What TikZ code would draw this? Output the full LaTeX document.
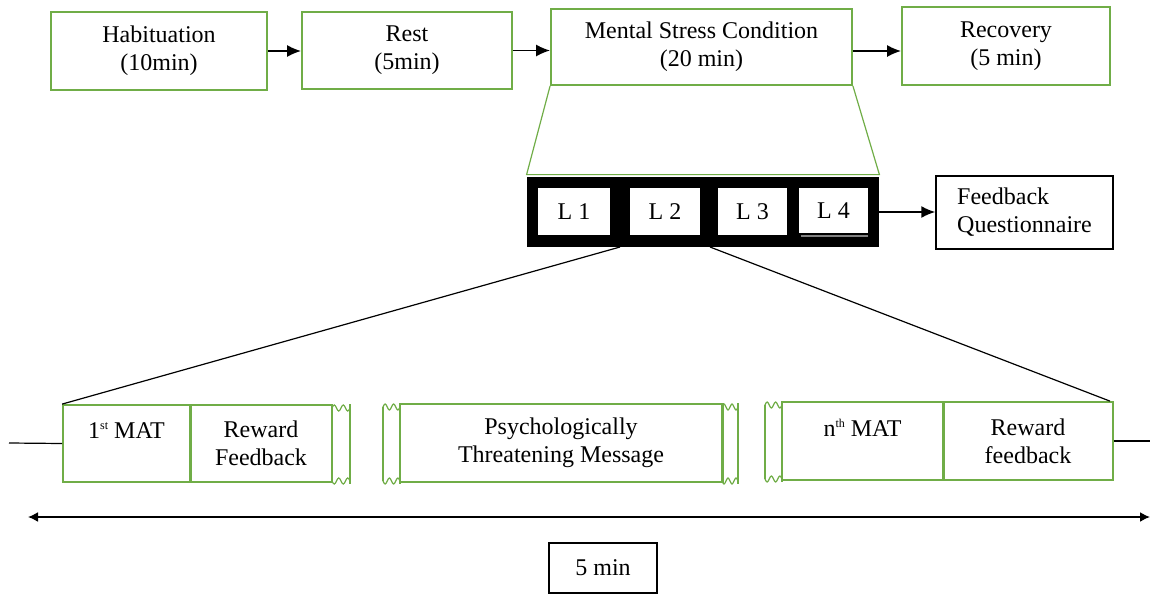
\documentclass[tikz,border=0pt]{standalone}
\usepackage{fontspec}
\setmainfont{Liberation Serif}
\usetikzlibrary{arrows.meta,calc}
\definecolor{grn}{RGB}{112,173,71}

% small raised ordinal suffix
\newcommand{\ordsup}[1]{\raisebox{0.75ex}{\fontsize{6}{6}\selectfont #1}}

% torn-edge break: two verticals joined by wavy lines at top and bottom
\newcommand{\breakmark}[4]{%
  \draw[grn, line width=0.7pt] ({#1},{#3+3}) -- ({#1},{#4-1});
  \draw[grn, line width=0.7pt] ({#2},{#3-1}) -- ({#2},{#4+2});
  \draw[grn, line width=0.6pt] ({#1},{#3+3})
     sin ++({(#2-#1)/8},-3) cos ++({(#2-#1)/8},3)
     sin ++({(#2-#1)/8},3) cos ++({(#2-#1)/8},-3)
     sin ++({(#2-#1)/8},-3) cos ++({(#2-#1)/8},3)
     sin ++({(#2-#1)/8},3) cos ++({(#2-#1)/8},-3);
  \draw[grn, line width=0.6pt] ({#1},{#4-1})
     sin ++({(#2-#1)/8},3) cos ++({(#2-#1)/8},-3)
     sin ++({(#2-#1)/8},-3) cos ++({(#2-#1)/8},3)
     sin ++({(#2-#1)/8},3) cos ++({(#2-#1)/8},-3)
     sin ++({(#2-#1)/8},-3) cos ++({(#2-#1)/8},3);
}

\begin{document}
\begin{tikzpicture}[x=0.5pt,y=-0.5pt,
  every node/.style={font=\fontsize{12}{14}\selectfont, inner sep=0pt},
  gbox/.style={draw=grn, line width=0.9pt, align=center, fill=white},
  bbox/.style={draw=black, line width=0.7pt, fill=white},
  arr/.style={-{Latex[length=7pt,width=6pt]}, line width=0.8pt},
  lbox/.style={fill=white, align=center},
  thin line/.style={line width=0.6pt},
]
\useasboundingbox (0,0) rectangle (1153,595);

% ---- session phases ----
\node[gbox, minimum width=108pt, minimum height=39pt] (hab) at (159,51) {Habituation\\(10min)};
\node[gbox, minimum width=105pt, minimum height=38.5pt] (rest) at (407,50.5) {Rest\\(5min)};
\node[gbox, minimum width=150.5pt, minimum height=38pt] (mental) at (701.5,47) {Mental Stress Condition\\(20 min)};
\node[gbox, minimum width=104pt, minimum height=39pt] (recov) at (1006,46) {Recovery\\(5 min)};

\draw[arr] (hab.east) -- (hab.east -| rest.west);
\draw[arr] (rest.east) -- (rest.east -| mental.west);
\draw[arr] ([yshift=-2pt]mental.east) -- ([yshift=-2pt]mental.east -| recov.west);

% ---- the four levels ----
\node[fill=black, minimum width=176pt, minimum height=35pt] (frame) at (703,212) {};
\node[lbox, minimum width=36pt, minimum height=23.5pt] (l1) at (574,211.5) {L 1};
\node[lbox, minimum width=35pt, minimum height=23.5pt] (l2) at (665,211.5) {L 2};
\node[lbox, minimum width=34.5pt, minimum height=23.5pt] (l3) at (752.5,211.5) {L 3};
\node[lbox, minimum width=34.5pt, minimum height=22.5pt] (l4) at (833.5,210.5) {L 4};
\draw[gray, line width=1pt] ([xshift=1pt,yshift=-1.5pt]l4.south west) -- ([yshift=-1.5pt]l4.south east);

% expansion of the stress condition
\draw[grn, thin line] (mental.south west) -- ([yshift=1pt]frame.north west)
   -- ([yshift=1pt]frame.north east) -- (mental.south east);

\node[bbox, minimum width=88.5pt, minimum height=36.5pt, align=left] (fq) at (1024.5,212.5) {Feedback\\Questionnaire};
\draw[arr] (frame.east) -- (frame.east -| fq.west);

% ---- one level in detail ----
\node[gbox, minimum width=63.5pt, minimum height=38.5pt] (mat1) at (126.5,443.5) {1\ordsup{st} MAT\\[-5pt]\strut};
\node[gbox, minimum width=71pt, minimum height=38.5pt] (rw1) at (261,443.5) {Reward\\Feedback};
\node[gbox, minimum width=161pt, minimum height=39pt] (psych) at (561,443) {Psychologically\\Threatening Message};
\node[gbox, minimum width=80.5pt, minimum height=39pt] (matn) at (862.5,441) {n\ordsup{th} MAT\\[-5pt]\strut};
\node[gbox, minimum width=85pt, minimum height=39pt] (rwn) at (1028,441) {Reward\\feedback};

\draw[grn, line width=1.5pt] (mat1.north east) -- (mat1.south east);
\draw[grn, line width=1.5pt] (matn.north east) -- (matn.south east);
\draw[grn, line width=1.5pt] (psych.north east) -- (psych.south east);

\breakmark{332}{350}{405}{482}
\breakmark{383}{400}{404}{482}
\breakmark{722}{738}{404}{482}
\breakmark{765}{782}{402}{480}

\coordinate (zl) at (620,247);
\coordinate (zr) at (710,247);
\draw[thin line] (zl) -- (mat1.north west);
\draw[thin line] (zr) -- ([xshift=-2pt]rwn.north east);

\coordinate (ll) at (9,443);
\coordinate (rr) at (1150,441);
\draw[thin line] (ll) -- (mat1.west);
\draw[thin line] (rwn.east) -- (rr);

% ---- duration ----
\coordinate (tl) at (28,517);
\coordinate (tr) at (1150,517);
\draw[{Latex[length=5pt,width=5pt]}-{Latex[length=5pt,width=5pt]}, line width=0.8pt] (tl) -- (tr);
\node[bbox, thin line, minimum width=54pt, minimum height=25pt] (dur) at (603,568) {5 min};

\end{tikzpicture}
\end{document}
